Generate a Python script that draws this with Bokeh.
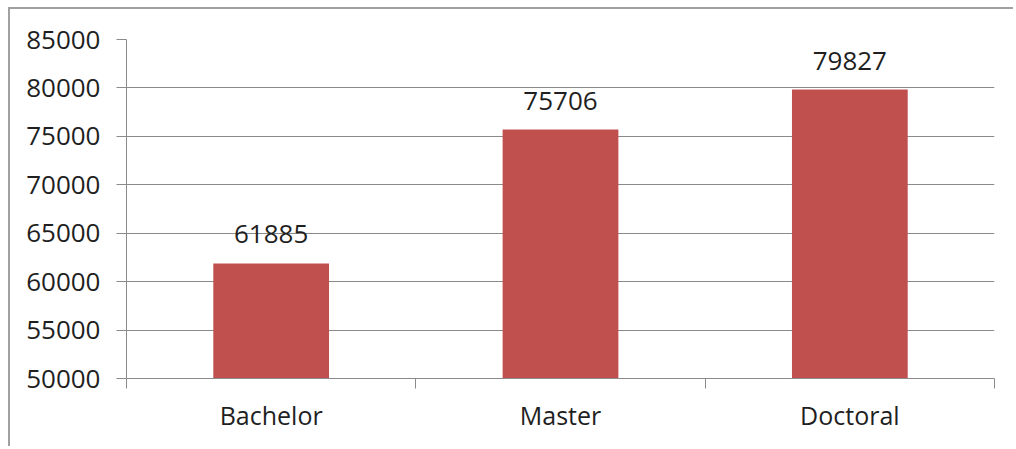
from bokeh.plotting import figure
from bokeh.models import FixedTicker, Range1d, ColumnDataSource, LabelSet
from bokeh.core.properties import value
from bokeh.embed import file_html
from bokeh.resources import INLINE

categories = ["Bachelor", "Master", "Doctoral"]
values = [61885, 75706, 79827]
y_ticks = [50000, 55000, 60000, 65000, 70000, 75000, 80000, 85000]

FONT = "Open Sans"
TEXT = "#1f1f1f"
GRAY = "#8a8a8a"
BAR = "#C0504D"

xs = [i + 0.5 for i in range(len(categories))]
bounds = list(range(len(categories) + 1))

src = ColumnDataSource(dict(x=xs, top=values, label=[str(v) for v in values]))

W, H = 1005, 439
p = figure(width=W, height=H, output_backend="svg", toolbar_location=None,
           x_range=Range1d(0, len(categories)), y_range=Range1d(y_ticks[0], y_ticks[-1]),
           min_border_left=116, min_border_right=W - 984, min_border_top=30,
           min_border_bottom=H - 369)
p.styles = {"margin-left": "8px", "margin-top": "7px",
            "border-left": "2px solid #a0a0a0", "border-top": "2px solid #a0a0a0"}
p.outline_line_color = None
p.background_fill_color = "white"
p.border_fill_color = "white"

p.vbar(x="x", top="top", bottom=y_ticks[0], width=0.4, color=BAR, line_color=None, source=src)

labels = LabelSet(x="x", y="top", text="label", source=src, text_align="center",
                  text_baseline="alphabetic", y_offset=20, text_font=value(FONT),
                  text_font_size="26px", text_color=TEXT)
p.add_layout(labels)

# y axis
p.yaxis.ticker = FixedTicker(ticks=y_ticks, minor_ticks=[])
p.yaxis.axis_line_color = GRAY
p.yaxis.major_tick_line_color = GRAY
p.yaxis.major_tick_out = 10
p.yaxis.major_tick_in = 0
p.yaxis.minor_tick_line_color = None
p.yaxis.major_label_text_font = FONT
p.yaxis.major_label_text_font_size = "26px"
p.yaxis.major_label_text_color = TEXT
p.yaxis.major_label_standoff = 16

# x axis
p.xaxis.ticker = FixedTicker(ticks=xs, minor_ticks=bounds)
p.xaxis.major_label_overrides = {x: c for x, c in zip(xs, categories)}
p.xaxis.axis_line_color = GRAY
p.xaxis.major_tick_out = 0
p.xaxis.major_tick_in = 0
p.xaxis.minor_tick_line_color = GRAY
p.xaxis.minor_tick_out = 10
p.xaxis.minor_tick_in = 0
p.xaxis.major_label_text_font = FONT
p.xaxis.major_label_text_font_size = "25px"
p.xaxis.major_label_text_color = TEXT
p.xaxis.major_label_standoff = 9

p.xgrid.grid_line_color = None
p.ygrid.ticker = FixedTicker(ticks=y_ticks)
p.ygrid.grid_line_color = GRAY
p.ygrid.grid_line_width = 1

open("out.html", "w").write(file_html(p, INLINE))
